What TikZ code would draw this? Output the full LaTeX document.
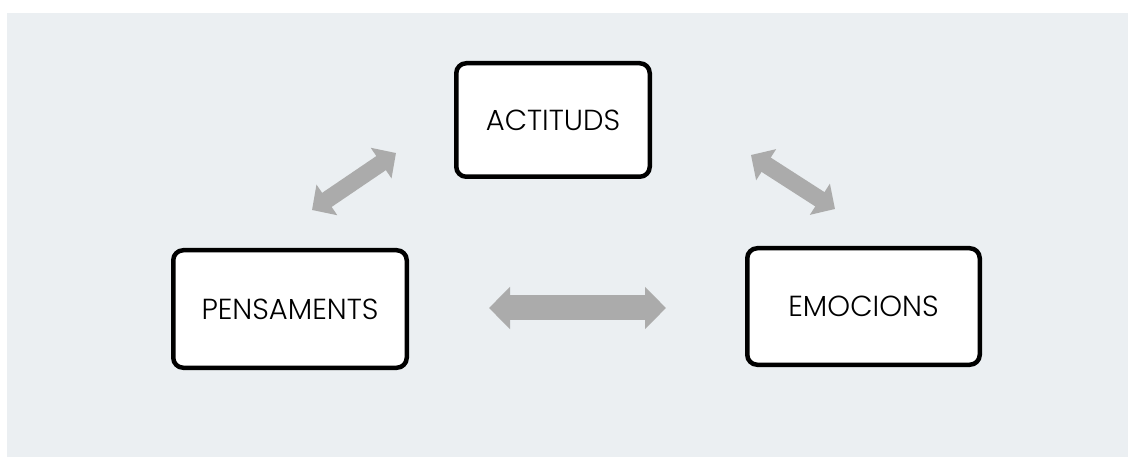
\documentclass[tikz,border=0pt]{standalone}
\usepackage{fontspec}
\setmainfont{Poppins}[UprightFont=* Light]
\usetikzlibrary{arrows.meta}
\definecolor{bgc}{HTML}{EBEFF2}
\definecolor{arrc}{HTML}{ABABAB}
\begin{document}
\begin{tikzpicture}[x=1pt,y=-1pt,
  box/.style={draw=black, line width=4.5pt, fill=white, rounded corners=10pt, font=\fontsize{29}{34}\selectfont, inner sep=0pt},
  bigarrow/.style={draw=arrc, line width=25pt, {Triangle[length=21pt,width=41pt]}-{Triangle[length=21pt,width=41pt]}, fill=arrc},
  diagarrow/.style={draw=arrc, line width=17pt, {Triangle[length=18pt,width=36pt]}-{Triangle[length=18pt,width=36pt]}, fill=arrc}]
\useasboundingbox (0,0) rectangle (1128,457);
\fill[white] (0,0) rectangle (1128,457);
\fill[bgc] (7,13) rectangle (1128,457);
\node[box, minimum width=193.5pt, minimum height=113.5pt] (act) at (553,120) {\raisebox{-1pt}{ACTITUDS}};
\node[box, minimum width=233.5pt, minimum height=117.5pt] (pen) at (290,309) {PENSAMENTS};
\node[box, minimum width=232.5pt, minimum height=116.5pt] (emo) at (863.5,306.5) {EMOCIONS};
\coordinate (h1) at (489,308);
\coordinate (h2) at (666,308);
\coordinate (l1) at (312,210);
\coordinate (l2) at (396,153);
\coordinate (r1) at (751,155);
\coordinate (r2) at (835,209);
\draw[bigarrow] (h1) -- (h2);
\draw[diagarrow] (l1) -- (l2);
\draw[diagarrow] (r1) -- (r2);
\end{tikzpicture}
\end{document}
